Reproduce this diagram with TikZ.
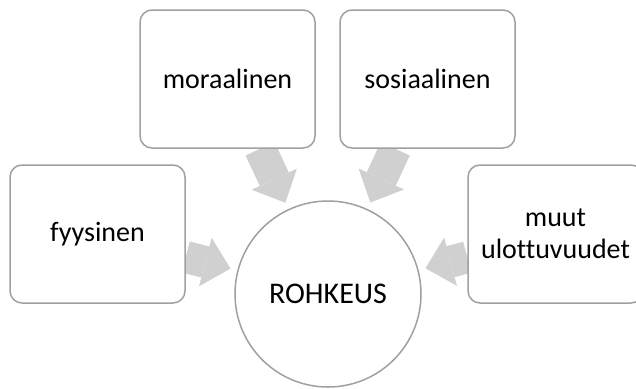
\documentclass[tikz,border=0pt]{standalone}
\usepackage{fontspec}
\setmainfont{Carlito}[Ligatures={NoCommon}]
\usepackage{xcolor}
\usepackage{tikz}
\usetikzlibrary{arrows.meta, backgrounds}

\definecolor{edgegray}{HTML}{A0A0A0}
\definecolor{flowgray}{HTML}{D0D0D0}

\begin{document}
\begin{tikzpicture}[
    x=1pt, y=-1pt,
    dim/.style={draw=edgegray, line width=1.5pt, rounded corners=12pt,
                fill=white, minimum width=175pt, minimum height=138pt,
                inner sep=0pt, align=center,
                font=\fontsize{28}{32}\selectfont},
    core/.style={circle, draw=edgegray, line width=1.5pt, fill=white,
                 minimum size=186pt, inner sep=0pt,
                 font=\fontsize{30}{36}\selectfont},
    flow/.style={draw=flowgray, line width=32pt, shorten >=7pt,
                 -{Triangle[length=26pt, width=50pt, line width=0pt]}}
]
    \useasboundingbox (0,0) rectangle (636,388);

    % ── Centre ──
    \node[core] (Rohkeus) at (328, 294) {ROHKEUS};

    % ── Ulottuvuudet ──
    \node[dim] (Fyysinen)   at (97.5, 234)  {fyysinen};
    \node[dim] (Moraalinen) at (227.5, 79)  {moraalinen};
    \node[dim] (Sosiaalinen) at (427.5, 79) {sosiaalinen};
    \node[dim] (Muut)       at (555.5, 234) {muut\\ulottuvuudet};

    % ── Nuolet (taustalla, laatikoiden alla) ──
    \begin{scope}[on background layer]
        \draw[flow] (Fyysinen) -- (Rohkeus);
        \draw[flow] (Moraalinen) -- (Rohkeus);
        \draw[flow] (Sosiaalinen) -- (Rohkeus);
        \draw[flow] (Muut) -- (Rohkeus);
    \end{scope}

\end{tikzpicture}
\end{document}
